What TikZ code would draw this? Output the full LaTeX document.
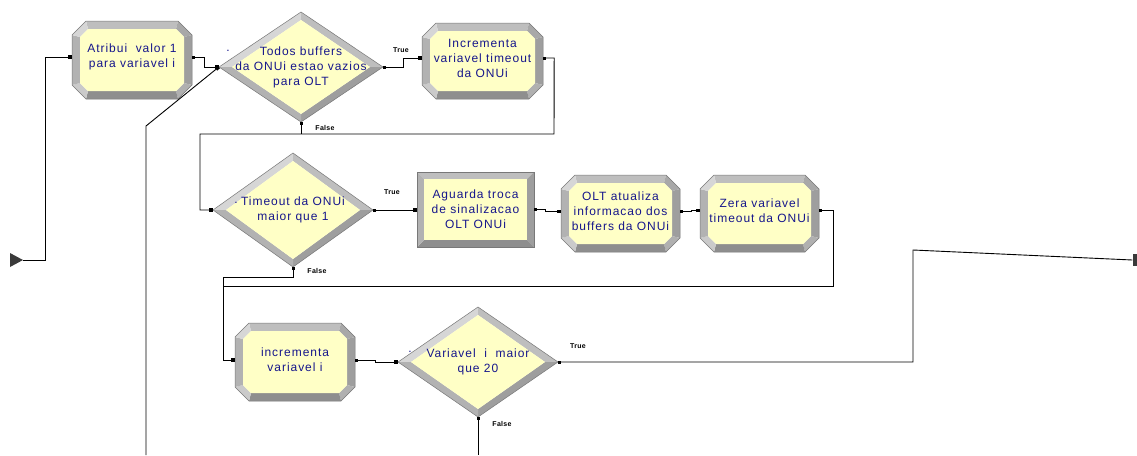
\documentclass[tikz,border=0pt]{standalone}
\usepackage{fontspec}
\setmainfont{Liberation Sans}
\newfontfamily\boxfont[LetterSpace=8]{Liberation Sans}
\newfontfamily\labfont[LetterSpace=4]{Liberation Sans}
\usetikzlibrary{arrows.meta}

\definecolor{boxfill}{RGB}{255,255,198}
\definecolor{navytxt}{RGB}{22,22,140}
\definecolor{bevtopc}{RGB}{190,190,190}
\definecolor{bevtrc}{RGB}{168,168,168}
\definecolor{bevrightc}{RGB}{158,158,158}
\definecolor{bevbrc}{RGB}{176,176,176}
\definecolor{bevbottomc}{RGB}{142,142,142}
\definecolor{bevblc}{RGB}{202,202,202}
\definecolor{bevleftc}{RGB}{178,178,178}
\definecolor{bevtlc}{RGB}{214,214,214}
\definecolor{bevedge}{RGB}{120,120,120}
\definecolor{markc}{RGB}{58,58,58}

\tikzset{
  boxtext/.style={font=\boxfont\fontsize{12}{15}\selectfont, text=navytxt,
    align=center, inner sep=0pt},
  lab/.style={font=\labfont\bfseries\fontsize{7}{8}\selectfont, inner sep=0pt},
  dotlab/.style={font=\boxfont\fontsize{12}{15}\selectfont, text=navytxt, inner sep=0pt},
  flow/.style={draw=black, line width=0.9pt},
  conn/.style={flow, {Square[length=2.5pt,width=3pt]}-{Square[length=3.5pt,width=3.5pt]}},
  outonly/.style={flow, {Square[length=2.5pt,width=3pt]}-},
  inonly/.style={flow, -{Square[length=3.5pt,width=3.5pt]}},
}

% bevelled octagonal process block: name, x1, y1, x2, y2, lift of text, text
\newcommand\arenaproc[7]{%
  \fill[bevtopc] ({#2+14},#3) -- ({#4-14},#3) -- ({#4-16},{#3+8}) -- ({#2+16},{#3+8}) -- cycle;
  \fill[bevtrc] ({#4-14},#3) -- (#4,{#3+14}) -- ({#4-8},{#3+16}) -- ({#4-16},{#3+8}) -- cycle;
  \fill[bevrightc] (#4,{#3+14}) -- (#4,{#5-14}) -- ({#4-8},{#5-16}) -- ({#4-8},{#3+16}) -- cycle;
  \fill[bevbrc] (#4,{#5-14}) -- ({#4-14},#5) -- ({#4-16},{#5-8}) -- ({#4-8},{#5-16}) -- cycle;
  \fill[bevbottomc] ({#4-14},#5) -- ({#2+14},#5) -- ({#2+16},{#5-8}) -- ({#4-16},{#5-8}) -- cycle;
  \fill[bevblc] ({#2+14},#5) -- (#2,{#5-14}) -- ({#2+8},{#5-16}) -- ({#2+16},{#5-8}) -- cycle;
  \fill[bevleftc] (#2,{#5-14}) -- (#2,{#3+14}) -- ({#2+8},{#3+16}) -- ({#2+8},{#5-16}) -- cycle;
  \fill[bevtlc] (#2,{#3+14}) -- ({#2+14},#3) -- ({#2+16},{#3+8}) -- ({#2+8},{#3+16}) -- cycle;
  \fill[boxfill] ({#2+16},{#3+8}) -- ({#4-16},{#3+8}) -- ({#4-8},{#3+16}) -- ({#4-8},{#5-16})
     -- ({#4-16},{#5-8}) -- ({#2+16},{#5-8}) -- ({#2+8},{#5-16}) -- ({#2+8},{#3+16}) -- cycle;
  \draw[bevedge, line width=0.5pt] ({#2+14},#3) -- ({#4-14},#3) -- (#4,{#3+14}) -- (#4,{#5-14})
     -- ({#4-14},#5) -- ({#2+14},#5) -- (#2,{#5-14}) -- (#2,{#3+14}) -- cycle;
  \pgfmathsetmacro\boxw{#4-#2}\pgfmathsetmacro\boxh{#5-#3}%
  \node[boxtext, minimum width=\boxw pt, minimum height=\boxh pt] (#1)
     at ({(#2+#4)/2},{(#3+#5)/2-#6}) {#7};
}

% bevelled rectangular delay block: name, x1, y1, x2, y2, text
\newcommand\arenarect[6]{%
  \fill[bevtopc] (#2,#3) -- (#4,#3) -- ({#4-7},{#3+7}) -- ({#2+7},{#3+7}) -- cycle;
  \fill[bevrightc] (#4,#3) -- (#4,#5) -- ({#4-7},{#5-7}) -- ({#4-7},{#3+7}) -- cycle;
  \fill[bevbottomc] (#4,#5) -- (#2,#5) -- ({#2+7},{#5-7}) -- ({#4-7},{#5-7}) -- cycle;
  \fill[bevleftc] (#2,#5) -- (#2,#3) -- ({#2+7},{#3+7}) -- ({#2+7},{#5-7}) -- cycle;
  \fill[boxfill] ({#2+7},{#3+7}) rectangle ({#4-7},{#5-7});
  \draw[bevedge, line width=0.5pt] (#2,#3) rectangle (#4,#5);
  \pgfmathsetmacro\boxw{#4-#2}\pgfmathsetmacro\boxh{#5-#3}%
  \node[boxtext, minimum width=\boxw pt, minimum height=\boxh pt] (#1)
     at ({(#2+#4)/2},{(#3+#5)/2}) {#6};
}

% bevelled decision diamond: name, cx, cy, half width, half height, text
\newcommand\arenadec[6]{%
  \fill[bevtlc] ({#2-#4},#3) -- (#2,{#3-#5}) -- (#2,{#3-#5+8}) -- ({#2-#4+13},#3) -- cycle;
  \fill[bevtopc] (#2,{#3-#5}) -- ({#2+#4},#3) -- ({#2+#4-13},#3) -- (#2,{#3-#5+8}) -- cycle;
  \fill[bevrightc] ({#2+#4},#3) -- (#2,{#3+#5}) -- (#2,{#3+#5-8}) -- ({#2+#4-13},#3) -- cycle;
  \fill[bevleftc] (#2,{#3+#5}) -- ({#2-#4},#3) -- ({#2-#4+13},#3) -- (#2,{#3+#5-8}) -- cycle;
  \fill[boxfill] ({#2-#4+13},#3) -- (#2,{#3-#5+8}) -- ({#2+#4-13},#3) -- (#2,{#3+#5-8}) -- cycle;
  \draw[bevedge, line width=0.5pt] ({#2-#4},#3) -- (#2,{#3-#5}) -- ({#2+#4},#3) -- (#2,{#3+#5}) -- cycle;
  \pgfmathsetmacro\boxw{2*#4}\pgfmathsetmacro\boxh{2*#5}%
  \node[boxtext, minimum width=\boxw pt, minimum height=\boxh pt] (#1) at (#2,#3) {#6};
}

\begin{document}
\begin{tikzpicture}[x=1pt, y=-1pt]
\useasboundingbox (0,0) rectangle (1137,455);
\fill[white] (0,0) rectangle (1137,455);

% blocks
\arenaproc{p1}{72}{21}{192}{99}{3}{Atribui\ \ valor 1\\para variavel i}
\arenadec{d1}{301}{67}{82}{55}{Todos buffers\\da ONUi estao vazios\\para OLT}
\arenaproc{p2}{422}{23}{543}{99}{3}{Incrementa\\variavel timeout\\da ONUi}
\arenadec{d2}{293}{210}{80}{57}{Timeout da ONUi\\maior que 1}
\arenarect{p3}{417}{172}{534}{247}{Aguarda troca\\de sinalizacao\\OLT ONUi}
\arenaproc{p4}{561}{175}{680}{252}{2}{OLT atualiza\\informacao dos\\buffers da ONUi}
\arenaproc{p5}{700}{175}{819}{252}{3}{Zera variavel\\timeout da ONUi}
\arenaproc{p6}{235}{323}{355}{401}{2}{incrementa\\variavel i}
\arenadec{d3}{478}{362}{80}{55}{Variavel\ \ i\ \ maior\\que 20}

% stray dots in front of the decision texts
\node[dotlab] (dot1) at (228,51) {.};
\node[dotlab] (dot2) at (236,203) {.};
\node[dotlab] (dot3) at (410,352) {.};

% create and dispose markers
\fill[markc] (10,253) -- (23,260) -- (10,267) -- cycle;
\coordinate (src) at (23,260);
\node[fill=markc, minimum width=5pt, minimum height=12pt, inner sep=0pt] (sink) at (1135,260) {};

% free ends leaving the sheet
\coordinate (loopend) at (146,455);
\coordinate (downend) at (478,455);

% connectors
\draw[inonly] (src) -- ++(22,0) |- (p1.west);
\draw[conn] (p1.east) -- ++(12,0) |- (d1.west);
\draw[inonly] (loopend) -- (146,126) -- (d1.west);
\draw[conn] (d1.east) -- ++(20,0) |- (p2.west);
\draw[conn] (p2.east) -- ++(11,0) -- (554,134) -- (200,134) |- (d2.west);
\draw[outonly] (d1.south) -- ++(0,12);
\draw[conn] (d2.east) -- (d2.east -| p3.west);
\draw[conn] (p3.east) -- ++(11,0) |- (p4.west);
\draw[conn] (p4.east) -- ++(11,0) |- (p5.west);
\draw[conn] (p5.east) -| (833,286) -- (223,286) |- (p6.west);
\draw[outonly] (d2.south) -- ++(0,10) -| (223,286);
\draw[conn] (p6.east) -- ++(20,0) |- (d3.west);
\draw[outonly] (d3.east) -- (913,362) -- (913,250) -- (sink.west);
\draw[outonly] (d3.south) -- (downend);

% branch labels
\node[lab] (t1) at (401,50) {True};
\node[lab] (f1) at (325,128) {False};
\node[lab] (t2) at (392,192) {True};
\node[lab] (f2) at (317,271) {False};
\node[lab] (t3) at (578,346) {True};
\node[lab] (f3) at (502,424) {False};
\end{tikzpicture}
\end{document}
